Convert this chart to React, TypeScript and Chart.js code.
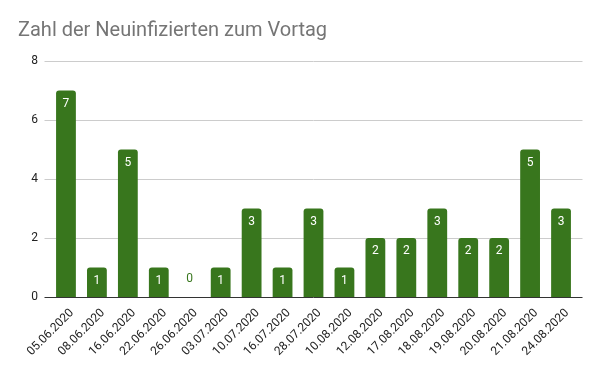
import React, { useEffect, useRef } from "react";
import { Chart, registerables } from "chart.js";

Chart.register(...registerables);

const categories = [
  "05.06.2020", "08.06.2020", "16.06.2020", "22.06.2020", "26.06.2020",
  "03.07.2020", "10.07.2020", "16.07.2020", "28.07.2020", "10.08.2020",
  "12.08.2020", "17.08.2020", "18.08.2020", "19.08.2020", "20.08.2020",
  "21.08.2020", "24.08.2020",
];
const newInfections = [7, 1, 5, 1, 0, 1, 3, 1, 3, 1, 2, 2, 3, 2, 2, 5, 3];
const yTicks = [0, 2, 4, 6, 8];

const BAR_COLOR = "#38761d";
const FONT = "Roboto, 'Noto Sans', sans-serif";

const gridPlugin = {
  id: "extGrid",
  beforeDatasetsDraw(chart: any) {
    const { ctx, chartArea, scales } = chart;
    const y = scales.y;
    ctx.save();
    for (const v of yTicks) {
      const py = Math.round(y.getPixelForValue(v)) + 0.5;
      ctx.strokeStyle = v === 0 ? "#333333" : "#cccccc";
      ctx.lineWidth = 1;
      ctx.beginPath();
      ctx.moveTo(chartArea.left - 6, py);
      ctx.lineTo(chartArea.right + 6, py);
      ctx.stroke();
    }
    ctx.restore();
  },
};

const labelPlugin = {
  id: "barLabels",
  afterDatasetsDraw(chart: any) {
    const { ctx } = chart;
    const meta = chart.getDatasetMeta(0);
    ctx.save();
    ctx.font = `12px ${FONT}`;
    ctx.textAlign = "center";
    ctx.textBaseline = "middle";
    meta.data.forEach((bar: any, i: number) => {
      const v = newInfections[i];
      if (v > 0) {
        ctx.fillStyle = "#ffffff";
        ctx.fillText(String(v), bar.x, bar.y + 13);
      } else {
        ctx.fillStyle = BAR_COLOR;
        ctx.fillText(String(v), bar.x, bar.base - 18);
      }
    });
    ctx.restore();
  },
};

export default function App() {
  const ref = useRef<HTMLCanvasElement | null>(null);
  useEffect(() => {
    document.body.style.margin = "0";
    if (!ref.current) return;
    const chart = new Chart(ref.current, {
      type: "bar",
      data: {
        labels: categories,
        datasets: [
          {
            data: newInfections,
            backgroundColor: BAR_COLOR,
            borderRadius: { topLeft: 3, topRight: 3, bottomLeft: 0, bottomRight: 0 },
            borderSkipped: false,
            barPercentage: 0.64,
            categoryPercentage: 1,
          },
        ],
      },
      options: {
        animation: false,
        responsive: false,
        maintainAspectRatio: false,
        layout: { padding: { left: 18, right: 23.5, top: 0, bottom: 0 } },
        plugins: {
          legend: { display: false },
          tooltip: { enabled: false },
          title: {
            display: true,
            text: "Zahl der Neuinfizierten zum Vortag",
            align: "start",
            color: "#757575",
            font: { family: FONT, size: 20, weight: "normal" },
            padding: { top: 19, bottom: 18 },
          },
        },
        scales: {
          x: {
            grid: { display: false, drawTicks: false },
            border: { display: false },
            afterFit(scale: any) {
              scale.height = 74;
            },
            ticks: {
              color: "#222222",
              font: { family: FONT, size: 12 },
              maxRotation: 45,
              minRotation: 45,
              autoSkip: false,
              padding: 9,
              labelOffset: 6,
            },
          },
          y: {
            min: 0,
            max: 8,
            afterBuildTicks(scale: any) {
              scale.ticks = yTicks.map((v) => ({ value: v }));
            },
            afterFit(scale: any) {
              scale.width = 32.5;
            },
            grid: { display: false, drawTicks: false },
            border: { display: false },
            ticks: {
              color: "#222222",
              font: { family: FONT, size: 12 },
              padding: 12.5,
            },
          },
        },
      },
      plugins: [gridPlugin, labelPlugin],
    });
    return () => chart.destroy();
  }, []);
  return (
    <div style={{ position: "absolute", left: 0, top: 0, width: 600, height: 371 }}>
      <canvas ref={ref} width={600} height={371} style={{ width: 600, height: 371 }} />
    </div>
  );
}
